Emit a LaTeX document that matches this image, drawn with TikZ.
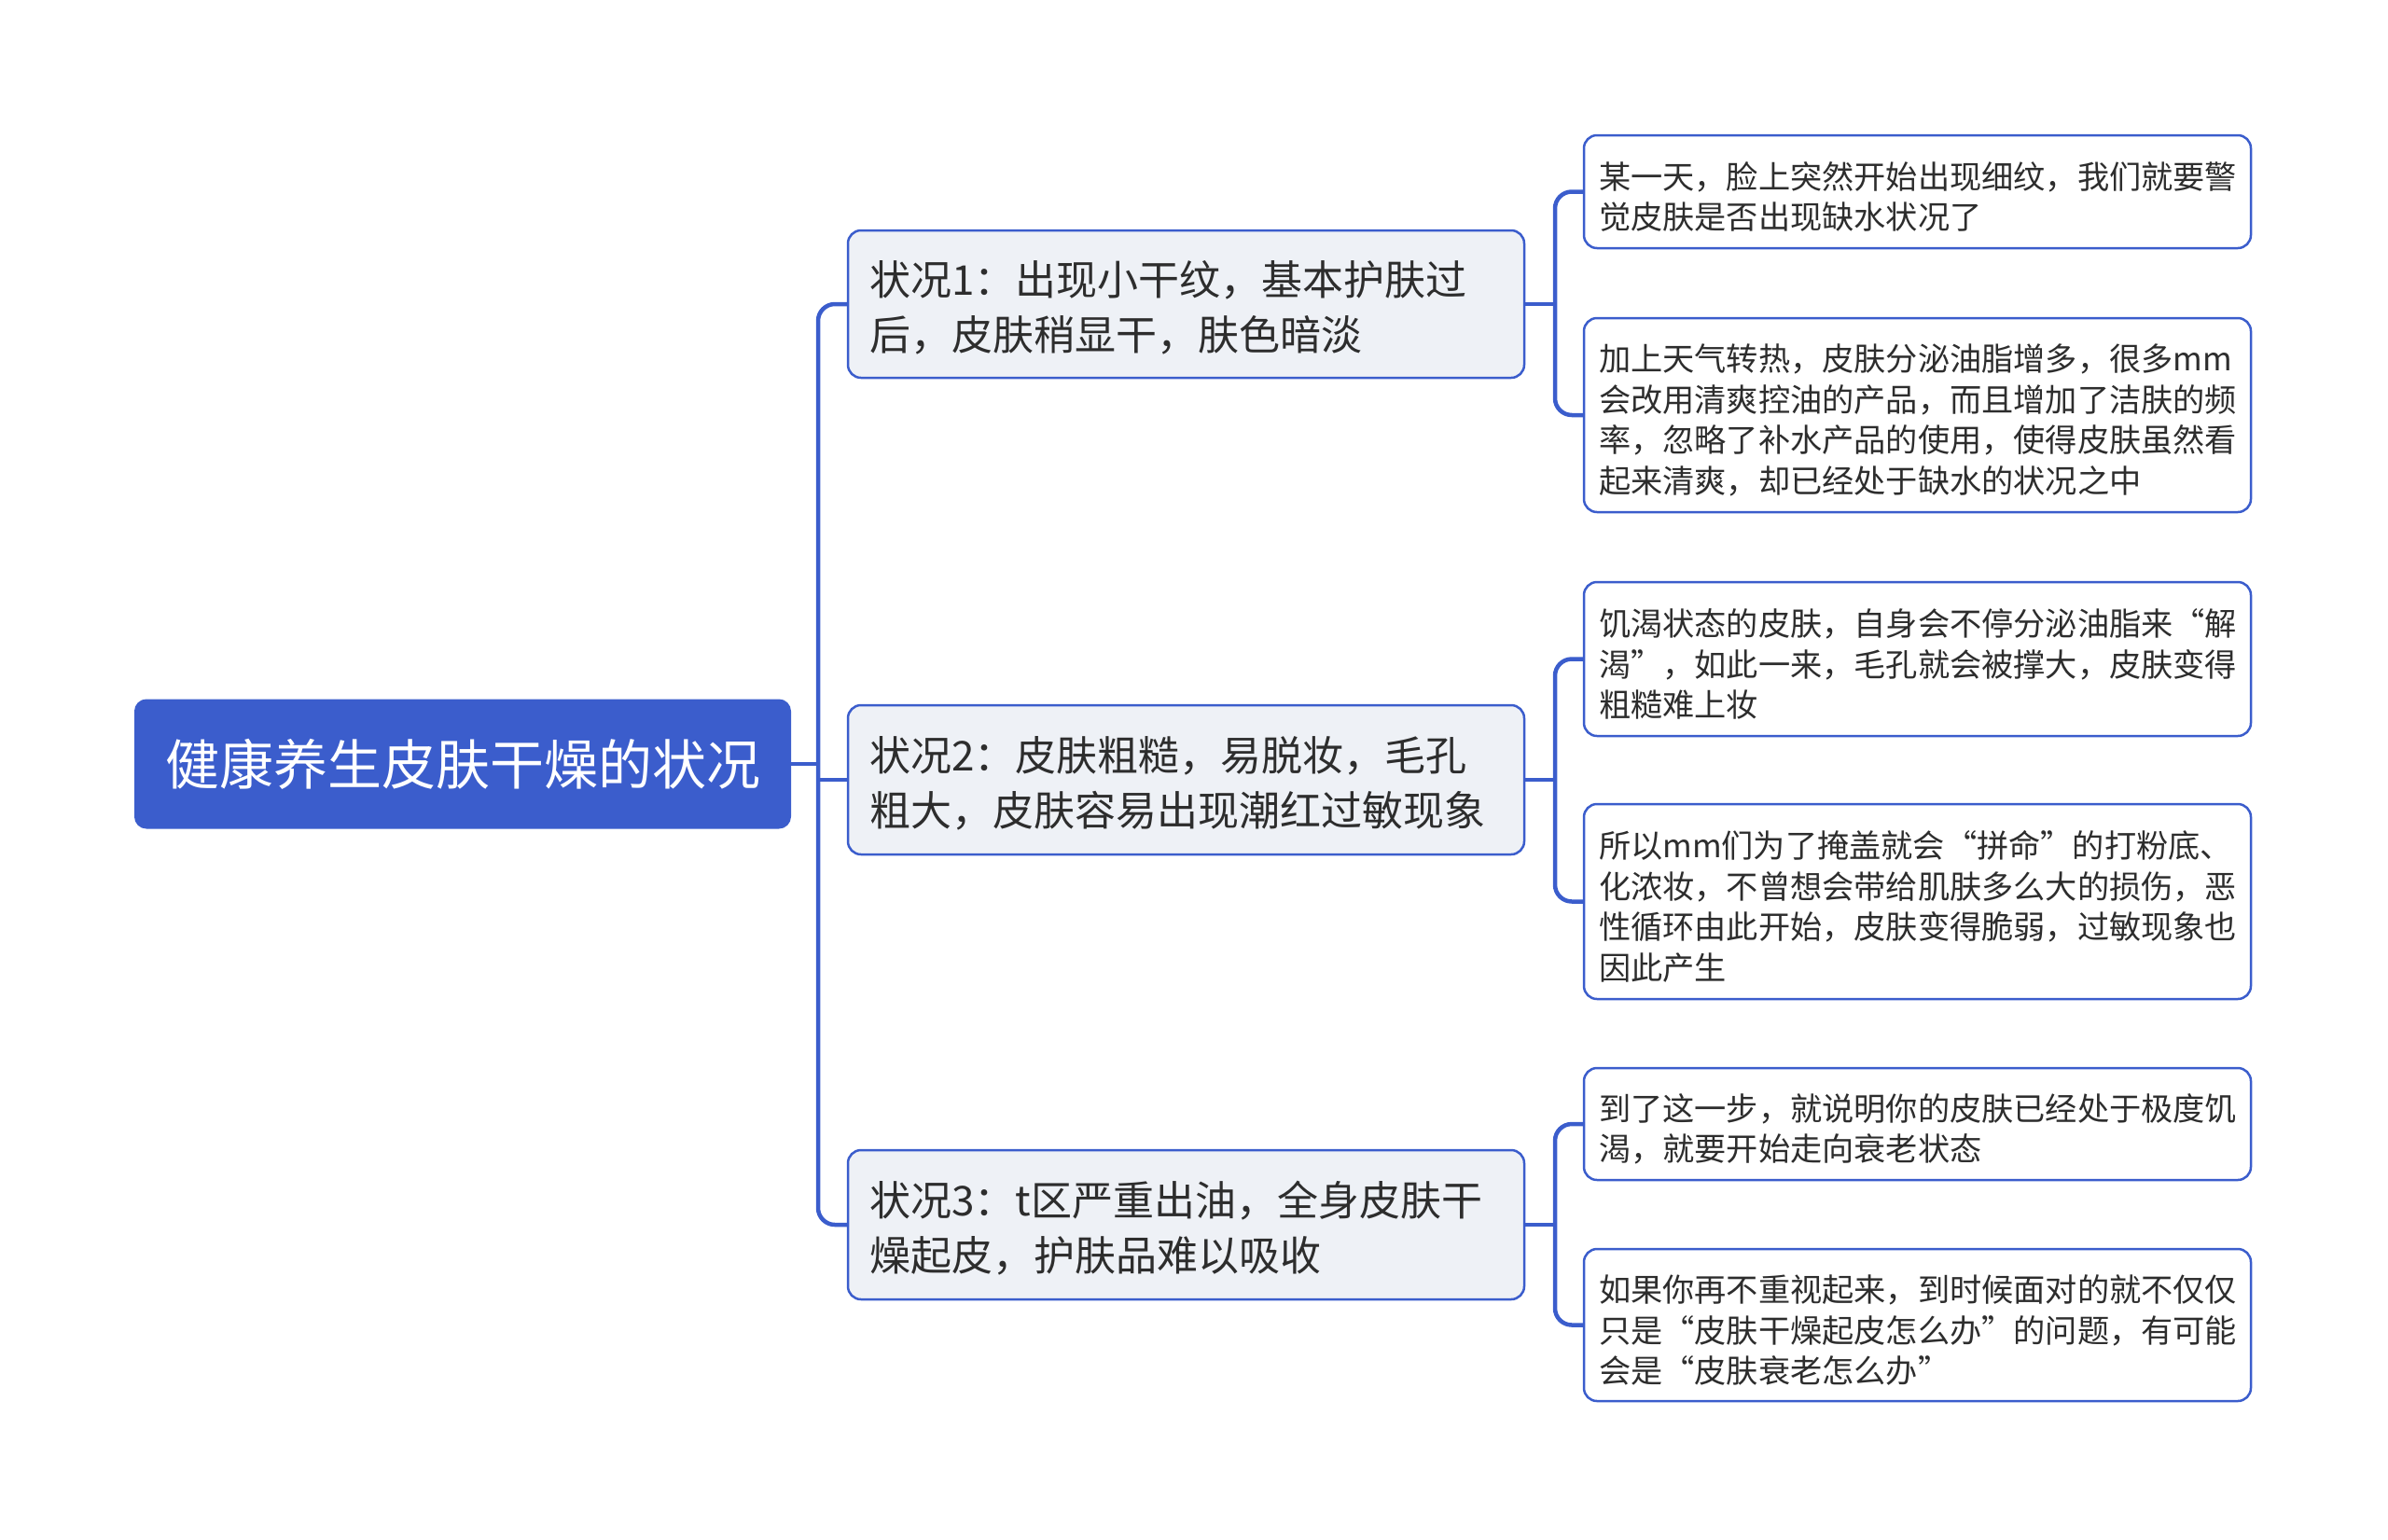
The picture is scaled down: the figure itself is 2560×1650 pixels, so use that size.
\documentclass[tikz,border=0pt]{standalone}
\usepackage{fontspec}
\setmainfont{Noto Sans CJK SC}
\definecolor{mainblue}{RGB}{59,93,204}
\definecolor{midfill}{RGB}{238,241,246}
\definecolor{txt}{RGB}{45,45,45}
\tikzset{
  rootbox/.style={draw=mainblue, line width=2pt, fill=mainblue, rounded corners=12pt, text=white,
    minimum width=702pt, minimum height=137pt, inner sep=0pt, align=center,
    font=\fontsize{58}{66}\selectfont},
  midbox/.style={draw=mainblue, line width=2.5pt, fill=midfill, rounded corners=14pt, text=txt,
    minimum width=725pt, inner xsep=23pt, inner ysep=0pt, text width=679pt, align=left,
    font=\fontsize{44}{59}\selectfont, execute at begin node={\rule{0pt}{45pt}}},
  leafbox/.style={draw=mainblue, line width=2.5pt, fill=white, rounded corners=14pt, text=txt,
    minimum width=715pt, inner xsep=16pt, inner ysep=0pt, text width=683pt, align=left,
    font=\fontsize{34.2}{43.6}\selectfont, execute at begin node={\rule{0pt}{40pt}}},
  conn/.style={draw=mainblue, line width=4.5pt, rounded corners=18pt}
}
\begin{document}
\begin{tikzpicture}[x=1pt,y=-1pt]
\useasboundingbox (0,0) rectangle (2560,1650);

\node[rootbox] (root) at (496,819) {健康养生皮肤干燥的状况};

\node[midbox, minimum height=158pt] (m1) at (1271.5,326) {状况1：出现小干纹，基本护肤过\\后，皮肤稍显干，肤色暗淡};
\node[midbox, minimum height=160pt] (m2) at (1271.5,836) {状况2：皮肤粗糙，易脱妆，毛孔\\粗大，皮肤容易出现潮红过敏现象};
\node[midbox, minimum height=160pt] (m3) at (1271.5,1313) {状况3：t区严重出油，全身皮肤干\\燥起皮，护肤品难以吸收};

\node[leafbox, minimum height=121pt] (l1) at (2055.5,205.5) {某一天，脸上突然开始出现细纹，我们就要警\\觉皮肤是否出现缺水状况了};
\node[leafbox, minimum height=208pt] (l2) at (2055.5,445) {加上天气转热，皮肤分泌油脂增多，很多mm\\会改用清爽控油的产品，而且增加了洁肤的频\\率，忽略了补水产品的使用，使得皮肤虽然看\\起来清爽，却已经处于缺水的状况之中};
\node[leafbox, minimum height=165pt] (l3) at (2055.5,706.5) {饥渴状态的皮肤，自身会不停分泌油脂来“解\\渴”，如此一来，毛孔就会被撑大，皮肤变得\\粗糙难上妆};
\node[leafbox, minimum height=209pt] (l4) at (2055.5,966.5) {所以mm们为了掩盖就会“拼命”的打粉底、\\化浓妆，不曾想会带给肌肤多么大的损伤，恶\\性循环由此开始，皮肤变得脆弱，过敏现象也\\因此产生};
\node[leafbox, minimum height=120pt] (l5) at (2055.5,1205) {到了这一步，就说明你的皮肤已经处于极度饥\\渴，就要开始走向衰老状态};
\node[leafbox, minimum height=163pt] (l6) at (2055.5,1420.5) {如果你再不重视起来，到时候面对的就不仅仅\\只是“皮肤干燥起皮怎么办”的问题，有可能\\会是“皮肤衰老怎么办”};

\coordinate (t) at (877,819);
\coordinate (b1) at (1667,326);
\coordinate (b2) at (1667,836);
\coordinate (b3) at (1667,1313);

\draw[conn] (root.east) -- (t);
\draw[conn] (m1.west) -| (t) |- (m3.west);
\draw[conn] (m2.west -| t) -- (m2.west);

\draw[conn] (m1.east) -- (b1);
\draw[conn] (l1.west) -| (b1) |- (l2.west);
\draw[conn] (m2.east) -- (b2);
\draw[conn] (l3.west) -| (b2) |- (l4.west);
\draw[conn] (m3.east) -- (b3);
\draw[conn] (l5.west) -| (b3) |- (l6.west);
\end{tikzpicture}
\end{document}
